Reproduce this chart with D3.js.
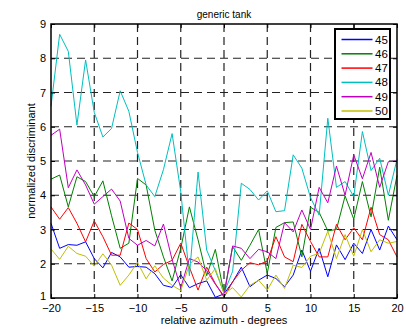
<!DOCTYPE html>
<html>
<head>
<meta charset="utf-8">
<script src="https://cdn.jsdelivr.net/npm/d3@7"></script>
<style>
  body { margin: 0; background: #fff; }
  svg { font-family: "Liberation Sans", Arial, sans-serif; }
</style>
</head>
<body>
<div id="chart"></div>
<script>
// azimuth samples, -20..20 degrees
var azimuth = d3.range(-20, 21);

var s45 = [3.18, 2.45, 2.56, 2.54, 2.64, 2.15, 1.88, 2.33, 2.2, 1.9, 1.92, 1.9, 1.71, 1.37, 1.31, 1.68, 1.3, 1.42, 1.5, 1.02, 1.12,
           1.47, 1.9, 1.33, 1.52, 1.67, 1.57, 1.33, 1.67, 2.4, 1.78, 2.45, 1.62, 2.55, 2.12, 2.6, 2.3, 3.0, 2.4, 3.1, 2.7];
var s46 = [4.47, 4.59, 3.66, 4.54, 4.4, 3.96, 4.42, 3.4, 2.45, 2.6, 4.49, 4.3, 2.98, 2.2, 1.5, 2.45, 3.66, 2.7, 1.65, 2.42, 1.13,
           2.5, 2.1, 2.54, 3.0, 1.72, 3.06, 3.2, 3.22, 2.2, 3.65, 3.5, 2.96, 3.0, 3.98, 3.3, 4.4, 3.37, 4.82, 3.27, 4.58];
var s47 = [3.66, 3.3, 3.64, 3.18, 2.64, 3.25, 2.79, 2.25, 2.25, 3.19, 3.0, 2.15, 1.76, 1.98, 2.1, 2.6, 1.9, 1.23, 1.9, 1.42, 1.02,
           1.47, 1.81, 2.03, 1.97, 2.08, 2.79, 2.2, 2.06, 3.15, 2.65, 2.2, 2.2, 3.15, 2.7, 3.05, 2.7, 3.65, 2.85, 2.7, 2.2];
var s48 = [6.6, 8.7, 8.2, 6.05, 7.95, 6.42, 5.7, 5.95, 7.05, 6.45, 5.25, 4.3, 3.96, 4.75, 5.8, 4.1, 1.65, 4.68, 2.4, 1.8, 1.15,
           1.78, 4.35, 4.17, 3.86, 4.13, 3.52, 3.55, 5.18, 4.79, 3.93, 3.42, 6.25, 4.23, 4.4, 3.96, 5.86, 4.72, 5.08, 4.0, 5.05];
var s49 = [5.75, 5.93, 4.22, 4.74, 4.3, 3.74, 3.96, 4.18, 3.83, 2.74, 2.54, 2.68, 2.52, 3.16, 2.12, 1.3, 2.15, 2.05, 1.8, 1.4, 1.06,
           2.52, 2.45, 2.15, 2.42, 2.35, 2.15, 3.2, 2.93, 3.57, 3.0, 4.23, 3.78, 4.85, 4.0, 5.18, 4.48, 5.25, 4.23, 4.98, 5.0];
var s50 = [2.43, 2.13, 2.51, 2.3, 2.22, 1.93, 2.29, 1.96, 1.37, 1.67, 2.04, 1.56, 1.94, 1.58, 1.37, 1.22, 1.98, 2.2, 1.52, 1.86, 1.12,
           1.3, 1.03, 1.37, 1.52, 1.23, 1.67, 1.28, 1.96, 1.89, 2.22, 2.3, 2.95, 2.15, 2.85, 2.22, 3.0, 2.35, 2.7, 2.6, 2.65];

var seriesNames = ['45', '46', '47', '48', '49', '50'];
var seriesValues = [s45, s46, s47, s48, s49, s50];
var seriesColors = ['#0000ff', '#008000', '#ff0000', '#00bfbf', '#bf00bf', '#bfbf00'];

var xTicks = [-20, -15, -10, -5, 0, 5, 10, 15, 20];
var yTicks = [1, 2, 3, 4, 5, 6, 7, 8, 9];

var width = 406, height = 329;
var margin = {top: 24, right: 9, bottom: 31, left: 51};
var plotW = width - margin.left - margin.right;
var plotH = height - margin.top - margin.bottom;

var svg = d3.select('#chart').append('svg')
    .attr('width', width)
    .attr('height', height);

var g = svg.append('g')
    .attr('transform', 'translate(' + margin.left + ',' + margin.top + ')');

var x = d3.scaleLinear().domain([-20, 20]).range([0, plotW]);
var y = d3.scaleLinear().domain([1, 9]).range([plotH, 0]);

// dashed grid
g.append('g').selectAll('line.vgrid')
    .data(xTicks.slice(1, -1))
    .enter().append('line')
    .attr('x1', function(d) { return x(d); })
    .attr('x2', function(d) { return x(d); })
    .attr('y1', 0)
    .attr('y2', plotH)
    .attr('stroke', '#222')
    .attr('stroke-width', 1.2)
    .attr('stroke-dasharray', '8,5');

g.append('g').selectAll('line.hgrid')
    .data(yTicks.slice(1, -1))
    .enter().append('line')
    .attr('x1', 0)
    .attr('x2', plotW)
    .attr('y1', function(d) { return y(d); })
    .attr('y2', function(d) { return y(d); })
    .attr('stroke', '#222')
    .attr('stroke-width', 1.2)
    .attr('stroke-dasharray', '8,5');

// series lines
var line = d3.line()
    .x(function(d, i) { return x(azimuth[i]); })
    .y(function(d) { return y(d); });

seriesValues.forEach(function(vals, i) {
    g.append('path')
        .datum(vals)
        .attr('fill', 'none')
        .attr('stroke', seriesColors[i])
        .attr('stroke-width', 1)
        .attr('d', line);
});

// axes, ticks inside like matlab
var xAxis = d3.axisBottom(x).tickValues(xTicks).tickSizeInner(-4).tickSizeOuter(0).tickPadding(6);
var yAxis = d3.axisLeft(y).tickValues(yTicks).tickSizeInner(-4).tickSizeOuter(0).tickPadding(5);

var gx = g.append('g').attr('transform', 'translate(0,' + plotH + ')').call(xAxis);
var gy = g.append('g').call(yAxis);
g.append('g').call(d3.axisTop(x).tickValues(xTicks).tickSizeInner(-4).tickSizeOuter(0).tickFormat(''));
g.append('g').attr('transform', 'translate(' + plotW + ',0)')
    .call(d3.axisRight(y).tickValues(yTicks).tickSizeInner(-4).tickSizeOuter(0).tickFormat(''));

g.selectAll('.domain').remove();
g.selectAll('.tick line').attr('stroke', '#000');
[gx, gy].forEach(function(a) {
    a.selectAll('text').attr('font-size', 11).attr('fill', '#000')
        .attr('font-family', '"Liberation Sans", Arial, sans-serif');
});
// lift the bottom y label a little so it clears the "-20"
gy.selectAll('.tick text').filter(function(d) { return d === 1; }).attr('dy', '0.1em');

g.append('rect')
    .attr('width', plotW)
    .attr('height', plotH)
    .attr('fill', 'none')
    .attr('stroke', '#000')
    .attr('stroke-width', 1.5);

// texts
svg.append('text')
    .attr('x', margin.left + plotW / 2)
    .attr('y', 18)
    .attr('text-anchor', 'middle')
    .attr('font-size', 10)
    .text('generic tank');

svg.append('text')
    .attr('x', margin.left + plotW / 2)
    .attr('y', 324)
    .attr('text-anchor', 'middle')
    .attr('font-size', 11)
    .text('relative azimuth - degrees');

svg.append('text')
    .attr('transform', 'translate(35,' + (margin.top + plotH / 2) + ') rotate(-90)')
    .attr('text-anchor', 'middle')
    .attr('font-size', 11)
    .text('normalized discriminant');

// legend
var legend = svg.append('g').attr('transform', 'translate(335,29)');
legend.append('rect')
    .attr('width', 55)
    .attr('height', 90)
    .attr('fill', '#fff')
    .attr('stroke', '#000')
    .attr('stroke-width', 2);

var items = legend.selectAll('g.item')
    .data(seriesNames)
    .enter().append('g')
    .attr('transform', function(d, i) { return 'translate(0,' + (10.5 + i * 14.3) + ')'; });

items.append('line')
    .attr('x1', 6.5)
    .attr('x2', 37.5)
    .attr('stroke', function(d, i) { return seriesColors[i]; })
    .attr('stroke-width', 1.5);

items.append('text')
    .attr('x', 40)
    .attr('dy', '0.35em')
    .attr('font-size', 11.5)
    .text(function(d) { return d; });
</script>
</body>
</html>
